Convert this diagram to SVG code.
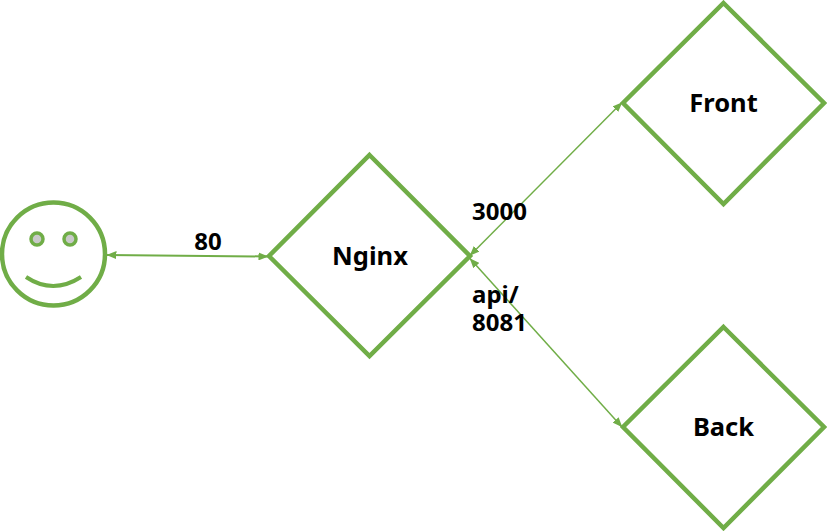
<svg xmlns="http://www.w3.org/2000/svg" width="827" height="531" viewBox="0 0 827 531">
<style>
.shape{fill:#fff;stroke:#70ad47;stroke-width:4.500}
.line{fill:none;stroke:#70ad47}
.t{font-family:"Noto Sans","Liberation Sans",sans-serif;font-weight:700;font-size:25.500px;fill:#000}
.m{text-anchor:middle}
.s{font-size:24px}
</style>
<defs>
<marker id="a" viewBox="0 0 10 8" refX="9.500" refY="4" markerWidth="10" markerHeight="8" markerUnits="userSpaceOnUse" orient="auto-start-reverse"><path d="M0 0L10 4L0 8Z" fill="#70ad47"/></marker>
</defs>
<g id="connectors">
<path class="line" style="stroke-width:2" d="M107 255L268 256.500" marker-start="url(#a)" marker-end="url(#a)"/>
<path class="line" style="stroke-width:1.500" d="M470 255.500L622 102.500" marker-start="url(#a)" marker-end="url(#a)"/>
<path class="line" style="stroke-width:1.500" d="M470 258.500L622 427" marker-start="url(#a)" marker-end="url(#a)"/>
</g>
<g id="user">
<circle class="shape" cx="53.500" cy="254" r="51.500"/>
<circle cx="37" cy="239" r="6" fill="#c9c9c9" stroke="#70ad47" stroke-width="3.500"/>
<circle cx="70" cy="239" r="6" fill="#c9c9c9" stroke="#70ad47" stroke-width="3.500"/>
<path d="M26 277Q53 295 81 277" fill="none" stroke="#70ad47" stroke-width="4"/>
</g>
<g id="nginx">
<path class="shape" d="M369.500 155L470 256L369.500 356L269 256Z"/>
<text class="t m" x="370" y="265">Nginx</text>
</g>
<g id="front">
<path class="shape" d="M723.500 3L824 103L723.500 204L623 103Z"/>
<text class="t m" x="723.500" y="112">Front</text>
</g>
<g id="back">
<path class="shape" d="M723.500 327L824 427L723.500 528L623 427Z"/>
<text class="t m" x="723.500" y="436">Back</text>
</g>
<g id="labels">
<text class="t s m" x="208" y="250">80</text>
<text class="t s" x="472" y="220">3000</text>
<text class="t s" x="472" y="303">api/</text>
<text class="t s" x="472" y="331">8081</text>
</g>
</svg>
